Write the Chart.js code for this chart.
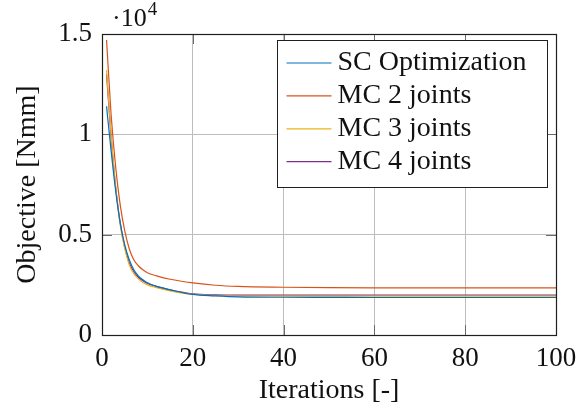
<!DOCTYPE html>
<html>
<head>
<meta charset="utf-8">
<script src="https://cdn.jsdelivr.net/npm/chart.js@4.4.0/dist/chart.umd.min.js"></script>
<style>
  html, body { margin: 0; padding: 0; background: #fff; }
  canvas { display: block; }
</style>
</head>
<body>
<canvas id="chart" width="587" height="410"></canvas>
<script>
/* Objective vs iterations, pgfplots-style look. */

const iterations = [1, 2, 3, 4, 5, 6, 7, 8, 9, 10, 12, 15, 20, 25, 30, 40, 50, 60, 70, 80, 90, 100];

// objective values in Nmm
const scOptimization = [11400, 9200, 7200, 5600, 4500, 3750, 3250, 2950, 2750, 2600, 2420, 2250, 2020, 1950, 1900, 1880, 1875, 1870, 1870, 1870, 1870, 1870];
const mc2Joints      = [14700, 11000, 8400, 6500, 5200, 4300, 3750, 3450, 3250, 3100, 2950, 2780, 2600, 2480, 2420, 2380, 2360, 2350, 2350, 2350, 2350, 2350];
const mc3Joints      = [13200, 10000, 7400, 5500, 4300, 3500, 3050, 2800, 2620, 2500, 2360, 2200, 2020, 1960, 1940, 1935, 1935, 1935, 1935, 1935, 1935, 1935];
const mc4Joints      = [13000, 9900, 7400, 5600, 4400, 3600, 3150, 2880, 2700, 2570, 2420, 2250, 2050, 2000, 1990, 1990, 1990, 1990, 1990, 1990, 1990, 1990];

const seriesLabels = ['SC Optimization', 'MC 2 joints', 'MC 3 joints', 'MC 4 joints'];
const seriesColors = ['#0072BD', '#D95319', '#EDB120', '#7E2F8E'];

const xTickValues = [0, 20, 40, 60, 80, 100];
const yTickValues = [0, 5000, 10000, 15000];
const yScaleFactor = 10000;   // shown as ·10^4

const FONT = '"Liberation Serif", "DejaVu Serif", serif';

const toPoints = (ys) => ys.map((v, i) => ({ x: iterations[i], y: v }));

const tickMarks = {
  id: 'tickMarks',
  beforeDatasetsDraw(chart) {
    const { ctx, chartArea: a, scales: { x, y } } = chart;
    const len = 10;
    ctx.save();
    ctx.strokeStyle = '#6b6b6b';
    ctx.lineWidth = 1;
    ctx.beginPath();
    xTickValues.forEach((v) => {
      const px = Math.round(x.getPixelForValue(v)) + 0.5;
      ctx.moveTo(px, a.bottom); ctx.lineTo(px, a.bottom - len);
      ctx.moveTo(px, a.top); ctx.lineTo(px, a.top + len);
    });
    yTickValues.forEach((v) => {
      const py = Math.round(y.getPixelForValue(v)) + 0.5;
      ctx.moveTo(a.left, py); ctx.lineTo(a.left + len, py);
      ctx.moveTo(a.right, py); ctx.lineTo(a.right - len, py);
    });
    ctx.stroke();
    ctx.restore();
  },
  afterDatasetsDraw(chart) {
    const { ctx, chartArea: a } = chart;
    ctx.save();
    ctx.strokeStyle = '#1f1f1f';
    ctx.lineWidth = 1.2;
    ctx.strokeRect(Math.round(a.left) + 0.5, Math.round(a.top) + 0.5,
                   Math.round(a.right - a.left), Math.round(a.bottom - a.top));
    ctx.restore();
  },
};

const boxLegend = {
  id: 'boxLegend',
  afterDraw(chart) {
    const { ctx, chartArea: a } = chart;
    const w = 270, h = 147;
    const bx = Math.round(a.right - 9 - w) + 0.5;
    const by = Math.round(a.top + 6) + 0.5;
    ctx.save();
    ctx.fillStyle = '#fff';
    ctx.fillRect(bx, by, w, h);
    ctx.strokeStyle = '#1f1f1f';
    ctx.lineWidth = 1;
    ctx.strokeRect(bx, by, w, h);
    ctx.font = `28px ${FONT}`;
    ctx.textBaseline = 'alphabetic';
    ctx.textAlign = 'left';
    seriesLabels.forEach((lab, i) => {
      const ly = by + 22.5 + i * 32.9;
      ctx.strokeStyle = seriesColors[i];
      ctx.lineWidth = 1.2;
      ctx.beginPath();
      ctx.moveTo(bx + 9, ly);
      ctx.lineTo(bx + 54, ly);
      ctx.stroke();
      ctx.fillStyle = '#111';
      ctx.fillText(lab, bx + 60, ly + 7);
    });
    ctx.restore();
  },
};

const exponentLabel = {
  id: 'exponentLabel',
  afterDraw(chart) {
    const { ctx, chartArea: a } = chart;
    ctx.save();
    ctx.fillStyle = '#111';
    ctx.textBaseline = 'alphabetic';
    ctx.font = `26px ${FONT}`;
    const base = '\u00b710';
    ctx.fillText(base, a.left + 10, 26);
    const bw = ctx.measureText(base).width;
    ctx.font = `19px ${FONT}`;
    ctx.fillText(String(Math.log10(yScaleFactor)), a.left + 11 + bw, 15);
    ctx.restore();
  },
};

new Chart(document.getElementById('chart'), {
  type: 'line',
  data: {
    datasets: [scOptimization, mc2Joints, mc3Joints, mc4Joints].map((ys, i) => ({
      label: seriesLabels[i],
      data: toPoints(ys),
      borderColor: seriesColors[i],
      backgroundColor: seriesColors[i],
      borderWidth: 1.2,
      pointRadius: 0,
      fill: false,
      cubicInterpolationMode: 'monotone',
    })),
  },
  options: {
    responsive: false,
    animation: false,
    layout: { padding: { left: 0, top: 34, right: 31, bottom: 0 } },
    plugins: { legend: { display: false }, tooltip: { enabled: false } },
    scales: {
      x: {
        type: 'linear',
        min: 0, max: 100,
        afterFit: (s) => { s.height = 75; },
        afterBuildTicks: (s) => { s.ticks = xTickValues.map((v) => ({ value: v })); },
        grid: { color: '#bdbdbd', lineWidth: 1, drawTicks: false },
        border: { display: false },
        ticks: {
          autoSkip: false, maxRotation: 0, padding: 8, color: '#111',
          font: { family: FONT, size: 27 },
        },
        title: {
          display: true, text: 'Iterations [-]', color: '#111',
          font: { family: FONT, size: 28 }, padding: { top: 0, bottom: 3 },
        },
      },
      y: {
        min: 0, max: 15000,
        afterFit: (s) => { s.width = 102; },
        afterBuildTicks: (s) => { s.ticks = yTickValues.map((v) => ({ value: v })); },
        grid: { color: '#bdbdbd', lineWidth: 1, drawTicks: false },
        border: { display: false },
        ticks: {
          autoSkip: false, padding: 10, color: '#111',
          font: { family: FONT, size: 27 },
          callback: (v) => String(v / yScaleFactor),
        },
        title: {
          display: true, text: 'Objective [Nmm]', color: '#111',
          font: { family: FONT, size: 28 }, padding: { top: 11, bottom: 0 },
        },
      },
    },
  },
  plugins: [tickMarks, boxLegend, exponentLabel],
});
</script>
</body>
</html>
